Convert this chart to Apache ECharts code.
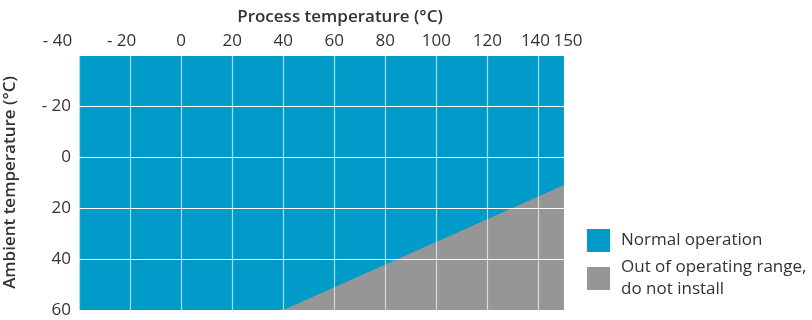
<!DOCTYPE html>
<html>
<head>
<meta charset="utf-8">
<script src="https://cdn.jsdelivr.net/npm/echarts@6/dist/echarts.min.js"></script>
<style>
html,body{margin:0;padding:0;background:#fff;}
#c{width:812px;height:320px;}
</style>
</head>
<body>
<div id="c"></div>
<script>
// ---- data ----
const xTitle = 'Process temperature (°C)';
const yTitle = 'Ambient temperature (°C)';
const seriesNames = ['Normal operation', 'Out of operating range, do not install'];
const normalX = [-40, 150];
const normalY = [-40, -40];
const outX = [40, 150];
const outY = [60, 11];
const xRange = [-40, 150];
const yRange = [-40, 60];
const tickStep = 20;

const FONT = 'Open Sans';
const TXT = '#333333';
const BLUE = '#009BC9';
const GRAY = '#969696';

function pairs(xs, ys) { return xs.map((x, i) => [x, ys[i]]); }
function fmt(v) { return v < 0 ? '- ' + Math.abs(v) : String(v); }

const GRID_H = 255;

const chart = echarts.init(document.getElementById('c'), null, {renderer: 'canvas'});
chart.setOption({
  animation: false,
  textStyle: {fontFamily: FONT},
  title: {
    text: xTitle,
    left: 335, top: 4, textAlign: 'center',
    textStyle: {fontFamily: FONT, fontSize: 17, fontWeight: 600, color: TXT}
  },
  grid: {left: 79, right: 248, top: 55, bottom: 10, containLabel: false, outerBoundsMode: 'none'},
  legend: [
    {
      data: [seriesNames[0]], orient: 'vertical', left: 587, top: 229, padding: 0,
      icon: 'rect', itemWidth: 23, itemHeight: 23,
      textStyle: {fontFamily: FONT, fontSize: 17, color: TXT, padding: [0, 0, 0, 6]}
    },
    {
      data: [seriesNames[1]], orient: 'vertical', left: 587, top: 245.5, padding: 0,
      icon: 'rect', itemWidth: 23, itemHeight: 23,
      formatter: function () { return 'Out of operating range,\ndo not install'; },
      textStyle: {fontFamily: FONT, fontSize: 17, color: TXT, lineHeight: 22, padding: [22, 0, 0, 6]}
    }
  ],
  xAxis: [
    {
      type: 'value', position: 'top', min: xRange[0], max: xRange[1], interval: tickStep,
      z: 5,
      axisLine: {show: false}, axisTick: {show: false},
      axisLabel: {
        margin: 5, color: TXT, fontFamily: FONT, fontSize: 17,
        showMinLabel: true, showMaxLabel: false,
        formatter: function (v) {
          if (v === xRange[0]) return '{m|' + fmt(v) + '}';
          if (v < 0) return '{n|' + fmt(v) + '}';
          if (v === 140) return '{p|' + fmt(v) + '}';
          return fmt(v);
        },
        rich: {
          m: {fontFamily: FONT, fontSize: 17, color: TXT, padding: [0, 43, 0, 0]},
          n: {fontFamily: FONT, fontSize: 17, color: TXT, padding: [0, 17, 0, 0]},
          p: {fontFamily: FONT, fontSize: 17, color: TXT, padding: [0, 6, 0, 0]}
        }
      },
      splitLine: {show: true, lineStyle: {color: 'rgba(255,255,255,0.65)', width: 1.2}}
    },
    {
      type: 'value', position: 'bottom', offset: -GRID_H, min: xRange[0], max: xRange[1], interval: tickStep,
      z: 5,
      axisLine: {show: false}, axisTick: {show: false}, splitLine: {show: false},
      axisLabel: {
        inside: true, margin: 5, color: TXT, fontFamily: FONT, fontSize: 17,
        showMinLabel: false, showMaxLabel: true,
        padding: [0, 0, 0, 8],
        formatter: function (v) { return v === xRange[1] ? fmt(v) : ''; }
      }
    }
  ],
  yAxis: {
    type: 'value', inverse: true, min: yRange[0], max: yRange[1], interval: tickStep,
    z: 5,
    name: yTitle, nameLocation: 'middle', nameGap: 60, nameRotate: 90,
    nameTextStyle: {fontFamily: FONT, fontSize: 17, fontWeight: 600, color: TXT},
    axisLine: {show: false}, axisTick: {show: false},
    axisLabel: {
      margin: 8, color: TXT, fontFamily: FONT, fontSize: 17, showMinLabel: false,
      formatter: fmt
    },
    splitLine: {show: true, lineStyle: {color: '#ffffff', width: 1.2}}
  },
  series: [
    {
      name: seriesNames[0], type: 'line', data: pairs(normalX, normalY),
      xAxisIndex: 0, yAxisIndex: 0,
      symbol: 'none', color: BLUE, itemStyle: {color: BLUE},
      lineStyle: {width: 0, color: BLUE},
      areaStyle: {color: BLUE, opacity: 1, origin: 'end'}, z: 1
    },
    {
      name: seriesNames[1], type: 'line', data: pairs(outX, outY),
      xAxisIndex: 0, yAxisIndex: 0,
      symbol: 'none', color: GRAY, itemStyle: {color: GRAY},
      lineStyle: {width: 0, color: GRAY},
      areaStyle: {color: GRAY, opacity: 1, origin: 'end'}, z: 2
    }
  ]
});
</script>
</body>
</html>
